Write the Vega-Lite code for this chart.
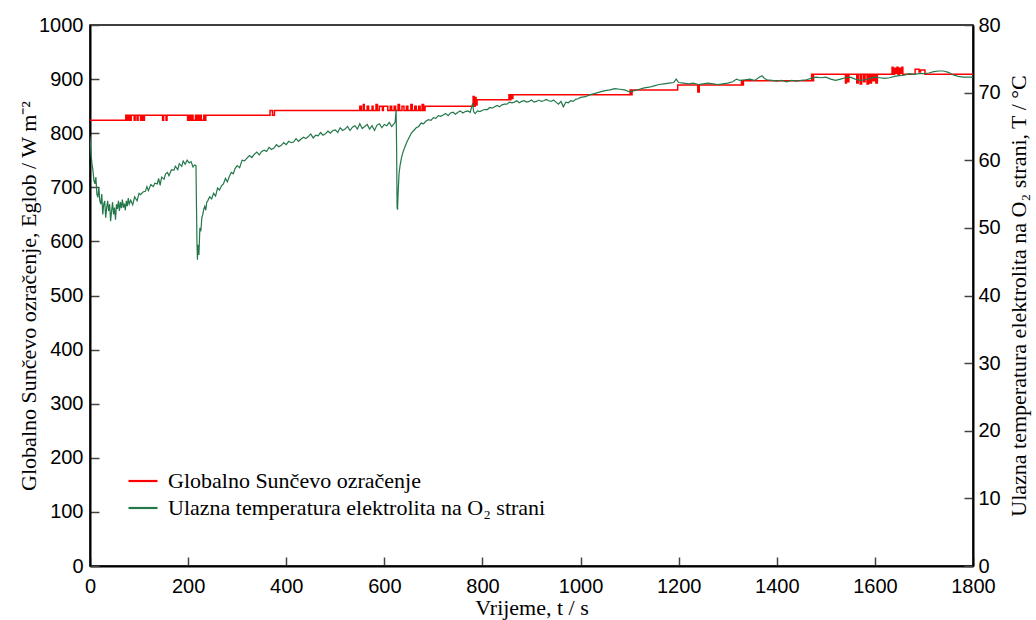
{
  "$schema": "https://vega.github.io/schema/vega-lite/v6.json",
  "width": 883,
  "height": 541,
  "autosize": {"type": "none"},
  "padding": {"left": 90, "top": 25, "right": 63, "bottom": 54},
  "background": "white",
  "config": {
    "view": {"stroke": "black", "strokeWidth": 1.5},
    "axis": {
      "labelFont": "Liberation Sans",
      "labelFontSize": 20,
      "labelColor": "black",
      "titleFont": "Liberation Serif",
      "titleFontSize": 22,
      "titleFontWeight": "normal",
      "titleColor": "black",
      "domainColor": "black",
      "domainWidth": 2,
      "tickColor": "#444",
      "tickWidth": 1.5,
      "tickSize": -9,
      "grid": false,
      "labelFlush": false,
      "labelOverlap": false,
      "format": "d"
    }
  },
  "datasets": {
    "irr": [
      {"t":0,"W":824},{"t":73,"W":833},{"t":76,"W":824},{"t":79,"W":833},{"t":82,"W":824},{"t":84,"W":833},
      {"t":90,"W":824},{"t":92,"W":833},{"t":96,"W":824},{"t":98,"W":833},{"t":103,"W":824},{"t":105,"W":833},{"t":108,"W":824},{"t":111,"W":833},
      {"t":148,"W":824},{"t":150,"W":833},{"t":155,"W":824},{"t":157,"W":833},
      {"t":199,"W":824},{"t":201,"W":833},{"t":204,"W":824},{"t":207,"W":833},{"t":210,"W":824},{"t":215,"W":833},{"t":217,"W":824},{"t":220,"W":833},{"t":222,"W":824},{"t":225,"W":833},{"t":227,"W":824},{"t":232,"W":833},{"t":234,"W":824},{"t":236,"W":833},
      {"t":367,"W":842},{"t":372,"W":833},{"t":376,"W":842},
      {"t":550,"W":850},{"t":553,"W":842},{"t":557,"W":853},{"t":559,"W":842},{"t":565,"W":850},{"t":568,"W":842},{"t":575,"W":850},{"t":577,"W":842},{"t":583,"W":853},{"t":586,"W":842},{"t":590,"W":850},{"t":596,"W":842},{"t":598,"W":850},{"t":607,"W":842},{"t":612,"W":850},{"t":615,"W":842},{"t":620,"W":850},{"t":623,"W":842},{"t":628,"W":853},{"t":631,"W":842},{"t":636,"W":850},{"t":640,"W":842},{"t":645,"W":850},{"t":648,"W":842},{"t":654,"W":853},{"t":657,"W":842},{"t":662,"W":850},{"t":665,"W":842},{"t":670,"W":850},{"t":673,"W":842},{"t":677,"W":853},{"t":680,"W":842},{"t":683,"W":850},
      {"t":781,"W":868},{"t":783,"W":850},{"t":785,"W":866},{"t":787,"W":852},{"t":789,"W":862},
      {"t":854,"W":871},{"t":856,"W":862},{"t":858,"W":871},{"t":860,"W":864},{"t":862,"W":871},
      {"t":1101,"W":880},{"t":1103,"W":871},{"t":1105,"W":880},
      {"t":1198,"W":889},{"t":1239,"W":876},{"t":1242,"W":889},
      {"t":1328,"W":897},{"t":1330,"W":889},{"t":1332,"W":897},
      {"t":1471,"W":909},{"t":1473,"W":897},{"t":1475,"W":909},
      {"t":1540,"W":893},{"t":1542,"W":909},{"t":1545,"W":895},{"t":1547,"W":909},{"t":1563,"W":893},{"t":1566,"W":909},{"t":1570,"W":891},{"t":1573,"W":909},{"t":1577,"W":895},{"t":1580,"W":909},{"t":1584,"W":891},{"t":1587,"W":909},{"t":1590,"W":893},{"t":1593,"W":909},{"t":1596,"W":897},{"t":1599,"W":909},{"t":1602,"W":893},{"t":1605,"W":909},
      {"t":1635,"W":922},{"t":1637,"W":909},{"t":1640,"W":920},{"t":1642,"W":911},{"t":1645,"W":922},{"t":1647,"W":909},{"t":1650,"W":920},{"t":1652,"W":911},{"t":1655,"W":922},{"t":1657,"W":909},
      {"t":1682,"W":918},{"t":1690,"W":913},{"t":1693,"W":917},{"t":1702,"W":909},{"t":1800,"W":909}
    ],
    "temp": [
      {"t":0,"T":63.5},{"t":2,"T":61.0},{"t":4,"T":59.5},{"t":6,"T":58.5},{"t":8,"T":57.0},{"t":10,"T":56.5},{"t":12,"T":57.5},{"t":14,"T":55.0},{"t":16,"T":54.5},{"t":18,"T":56.0},
      {"t":20,"T":54.0},{"t":22,"T":53.5},{"t":24,"T":55.0},{"t":26,"T":52.0},{"t":28,"T":53.5},{"t":30,"T":54.0},{"t":32,"T":51.5},{"t":34,"T":53.0},{"t":36,"T":54.0},{"t":38,"T":52.5},
      {"t":40,"T":53.5},{"t":42,"T":51.0},{"t":44,"T":52.5},{"t":46,"T":53.8},{"t":48,"T":52.0},{"t":50,"T":53.0},{"t":52,"T":51.2},{"t":54,"T":53.5},{"t":56,"T":52.8},{"t":58,"T":54.0},
      {"t":60,"T":52.5},{"t":62,"T":53.8},{"t":64,"T":52.9},{"t":66,"T":54.2},{"t":68,"T":53.0},{"t":70,"T":53.6},{"t":72,"T":52.6},{"t":74,"T":54.0},{"t":76,"T":53.2},{"t":78,"T":54.4},
      {"t":80,"T":53.5},{"t":83,"T":54.1},{"t":87,"T":53.4},{"t":91,"T":54.6},{"t":96,"T":54.0},{"t":100,"T":55.1},{"t":103,"T":54.9},{"t":108,"T":55.3},{"t":113,"T":55.4},{"t":116,"T":56.1},
      {"t":119,"T":55.5},{"t":124,"T":56.4},{"t":129,"T":56.1},{"t":132,"T":56.6},{"t":137,"T":56.5},{"t":140,"T":57.3},{"t":143,"T":56.3},{"t":146,"T":57.5},{"t":151,"T":57.2},{"t":154,"T":58.0},
      {"t":158,"T":58.2},{"t":161,"T":57.7},{"t":166,"T":58.6},{"t":171,"T":58.5},{"t":174,"T":59.1},{"t":179,"T":58.6},{"t":182,"T":59.5},{"t":187,"T":59.1},{"t":190,"T":59.9},{"t":194,"T":59.4},
      {"t":198,"T":60.0},{"t":202,"T":59.6},{"t":206,"T":59.8},{"t":210,"T":59.0},{"t":213,"T":59.3},{"t":216,"T":59.2},{"t":218,"T":48.0},{"t":219,"T":45.3},{"t":220,"T":47.5},{"t":222,"T":46.0},
      {"t":224,"T":50.0},{"t":226,"T":49.5},{"t":228,"T":51.5},{"t":230,"T":52.0},{"t":232,"T":52.8},{"t":234,"T":53.2},{"t":236,"T":52.6},{"t":238,"T":53.8},
      {"t":240,"T":54.0},{"t":244,"T":54.6},{"t":248,"T":54.3},{"t":252,"T":55.1},{"t":256,"T":54.7},{"t":260,"T":55.9},{"t":264,"T":55.6},{"t":268,"T":56.2},{"t":272,"T":56.5},{"t":276,"T":57.3},
      {"t":280,"T":56.8},{"t":284,"T":57.6},{"t":288,"T":58.2},{"t":292,"T":58.0},{"t":296,"T":58.8},{"t":300,"T":59.2},{"t":305,"T":58.9},{"t":310,"T":60.0},{"t":315,"T":59.9},{"t":320,"T":60.3},
      {"t":325,"T":60.7},{"t":330,"T":60.4},{"t":335,"T":60.9},{"t":340,"T":61.2},{"t":345,"T":60.8},{"t":350,"T":61.3},{"t":355,"T":61.5},{"t":360,"T":61.3},{"t":365,"T":61.9},{"t":370,"T":61.6},
      {"t":375,"T":61.8},{"t":380,"T":62.3},{"t":385,"T":62.0},{"t":390,"T":62.2},{"t":395,"T":62.6},{"t":400,"T":62.3},{"t":405,"T":62.8},{"t":410,"T":62.6},{"t":415,"T":62.7},{"t":420,"T":63.2},
      {"t":425,"T":62.8},{"t":430,"T":63.1},{"t":435,"T":63.4},{"t":440,"T":63.2},{"t":445,"T":63.5},{"t":450,"T":63.9},{"t":455,"T":63.3},{"t":460,"T":63.7},{"t":465,"T":63.6},{"t":470,"T":64.1},
      {"t":475,"T":63.7},{"t":480,"T":63.9},{"t":485,"T":64.3},{"t":490,"T":64.0},{"t":495,"T":64.4},{"t":500,"T":64.5},{"t":505,"T":64.1},{"t":510,"T":64.8},{"t":515,"T":64.4},{"t":520,"T":64.6},
      {"t":525,"T":65.0},{"t":530,"T":64.4},{"t":535,"T":64.9},{"t":540,"T":65.1},{"t":545,"T":64.6},{"t":550,"T":65.4},{"t":555,"T":64.7},{"t":560,"T":65.0},{"t":565,"T":65.3},{"t":570,"T":64.6},
      {"t":575,"T":65.1},{"t":580,"T":64.4},{"t":585,"T":65.2},{"t":590,"T":65.4},{"t":595,"T":64.8},{"t":600,"T":65.3},{"t":605,"T":65.1},{"t":610,"T":65.6},{"t":615,"T":65.0},{"t":620,"T":65.4},
      {"t":622,"T":65.6},{"t":624,"T":67.5},{"t":625,"T":62.0},{"t":626,"T":53.0},{"t":627,"T":52.7},{"t":628,"T":55.0},{"t":630,"T":58.0},{"t":632,"T":59.2},{"t":635,"T":60.4},{"t":638,"T":61.2},
      {"t":642,"T":62.0},{"t":646,"T":62.7},{"t":650,"T":63.3},{"t":655,"T":64.0},{"t":660,"T":64.4},{"t":665,"T":64.8},{"t":670,"T":65.0},{"t":675,"T":65.5},{"t":680,"T":65.4},{"t":685,"T":65.8},
      {"t":690,"T":66.0},{"t":695,"T":65.9},{"t":700,"T":66.3},{"t":705,"T":66.2},{"t":710,"T":66.6},{"t":715,"T":66.5},{"t":720,"T":66.7},{"t":725,"T":66.9},{"t":730,"T":66.6},{"t":735,"T":67.0},
      {"t":740,"T":67.1},{"t":745,"T":66.8},{"t":750,"T":67.1},{"t":755,"T":67.3},{"t":760,"T":67.0},{"t":765,"T":67.2},{"t":770,"T":67.3},{"t":775,"T":67.1},{"t":780,"T":68.4},{"t":782,"T":67.2},
      {"t":785,"T":66.9},{"t":790,"T":67.3},{"t":795,"T":67.2},{"t":800,"T":67.4},{"t":805,"T":67.5},{"t":810,"T":67.5},{"t":815,"T":67.8},{"t":820,"T":67.7},{"t":825,"T":67.9},{"t":830,"T":68.1},
      {"t":835,"T":67.9},{"t":840,"T":68.2},{"t":845,"T":68.3},{"t":850,"T":68.3},{"t":855,"T":68.6},{"t":860,"T":68.5},{"t":865,"T":68.6},{"t":870,"T":68.8},{"t":875,"T":68.5},{"t":880,"T":68.7},
      {"t":885,"T":68.8},{"t":890,"T":68.6},{"t":895,"T":68.7},{"t":900,"T":68.9},{"t":905,"T":68.6},{"t":910,"T":68.7},{"t":915,"T":68.9},{"t":920,"T":68.7},{"t":925,"T":68.8},{"t":930,"T":69.0},
      {"t":935,"T":68.8},{"t":940,"T":68.7},{"t":945,"T":68.9},{"t":950,"T":68.6},{"t":955,"T":68.3},{"t":960,"T":68.7},{"t":965,"T":67.9},{"t":970,"T":68.6},{"t":975,"T":68.5},{"t":980,"T":68.8},
      {"t":985,"T":68.7},{"t":990,"T":69.0},{"t":995,"T":69.1},{"t":1000,"T":69.3},{"t":1010,"T":69.4},{"t":1020,"T":69.7},{"t":1030,"T":69.9},{"t":1040,"T":70.1},{"t":1050,"T":70.3},{"t":1060,"T":70.4},
      {"t":1070,"T":70.6},{"t":1080,"T":70.5},{"t":1090,"T":70.4},{"t":1100,"T":70.1},{"t":1110,"T":70.3},{"t":1120,"T":70.5},{"t":1130,"T":70.7},{"t":1140,"T":70.8},{"t":1150,"T":71.0},{"t":1160,"T":71.2},
      {"t":1170,"T":71.3},{"t":1180,"T":71.4},{"t":1190,"T":71.5},{"t":1195,"T":72.0},{"t":1200,"T":71.5},{"t":1210,"T":71.4},{"t":1220,"T":71.3},{"t":1230,"T":71.4},{"t":1240,"T":71.2},{"t":1250,"T":71.3},
      {"t":1260,"T":71.4},{"t":1270,"T":71.3},{"t":1280,"T":71.2},{"t":1290,"T":71.3},{"t":1300,"T":71.4},{"t":1310,"T":71.6},{"t":1318,"T":72.0},{"t":1325,"T":71.8},{"t":1335,"T":71.9},{"t":1345,"T":72.0},
      {"t":1355,"T":71.8},{"t":1365,"T":72.3},{"t":1370,"T":72.5},{"t":1375,"T":72.1},{"t":1380,"T":71.9},{"t":1390,"T":71.8},{"t":1400,"T":71.7},{"t":1410,"T":71.8},{"t":1420,"T":71.6},{"t":1430,"T":71.8},
      {"t":1440,"T":71.7},{"t":1450,"T":71.8},{"t":1460,"T":71.9},{"t":1470,"T":72.1},{"t":1480,"T":72.3},{"t":1490,"T":72.2},{"t":1500,"T":72.3},{"t":1510,"T":72.0},{"t":1520,"T":71.8},{"t":1530,"T":72.0},
      {"t":1540,"T":72.2},{"t":1550,"T":72.3},{"t":1560,"T":72.0},{"t":1570,"T":71.8},{"t":1580,"T":71.9},{"t":1590,"T":72.1},{"t":1600,"T":72.3},{"t":1610,"T":72.2},{"t":1620,"T":72.1},{"t":1630,"T":72.2},
      {"t":1640,"T":72.4},{"t":1650,"T":72.5},{"t":1660,"T":72.6},{"t":1670,"T":72.8},{"t":1680,"T":72.7},{"t":1690,"T":72.8},{"t":1700,"T":72.8},{"t":1710,"T":72.9},{"t":1720,"T":73.1},{"t":1730,"T":73.2},
      {"t":1740,"T":73.2},{"t":1750,"T":73.0},{"t":1760,"T":72.6},{"t":1770,"T":72.4},{"t":1780,"T":72.3},{"t":1790,"T":72.3},{"t":1800,"T":72.3}
    ]
  },
  "layer": [
    {
      "data": {"name": "irr"},
      "mark": {"type": "line", "interpolate": "step-after", "strokeWidth": 1.5, "clip": true},
      "encoding": {
        "x": {
          "field": "t", "type": "quantitative",
          "scale": {"domain": [0, 1800], "nice": false},
          "axis": {"values": [0,200,400,600,800,1000,1200,1400,1600,1800], "title": "Vrijeme, t / s", "labelPadding": 19, "titlePadding": 1}
        },
        "y": {
          "field": "W", "type": "quantitative",
          "scale": {"domain": [0, 1000], "nice": false},
          "axis": {"orient": "left", "values": [0,100,200,300,400,500,600,700,800,900,1000], "title": "Globalno Sunčevo ozračenje, Eglob / W m⁻²", "labelPadding": 16, "titlePadding": -2}
        },
        "color": {
          "datum": "Globalno Sunčevo ozračenje",
          "type": "nominal",
          "scale": {"domain": ["Globalno Sunčevo ozračenje", "Ulazna temperatura elektrolita na O₂ strani"], "range": ["#ff0000", "#23784a"]},
          "legend": {
            "title": null,
            "orient": "none",
            "legendX": 37,
            "legendY": 440,
            "padding": 0,
            "symbolType": "stroke",
            "symbolSize": 841,
            "symbolStrokeWidth": 2.2,
            "labelFont": "Liberation Serif",
            "labelFontSize": 22,
            "labelColor": "black",
            "labelLimit": 700,
            "labelOffset": 9,
            "rowPadding": 0
          }
        }
      }
    },
    {
      "data": {"name": "temp"},
      "mark": {"type": "line", "strokeWidth": 1.2, "clip": true},
      "encoding": {
        "x": {"field": "t", "type": "quantitative"},
        "y": {
          "field": "T", "type": "quantitative",
          "scale": {"domain": [0, 80], "nice": false},
          "axis": {"orient": "right", "values": [0,10,20,30,40,50,60,70,80], "title": "Ulazna temperatura elektrolita na O₂ strani, T / °C", "titleAngle": 270, "labelPadding": 14, "titlePadding": 30}
        },
        "color": {"datum": "Ulazna temperatura elektrolita na O₂ strani", "type": "nominal"}
      }
    }
  ],
  "resolve": {"scale": {"y": "independent"}}
}
